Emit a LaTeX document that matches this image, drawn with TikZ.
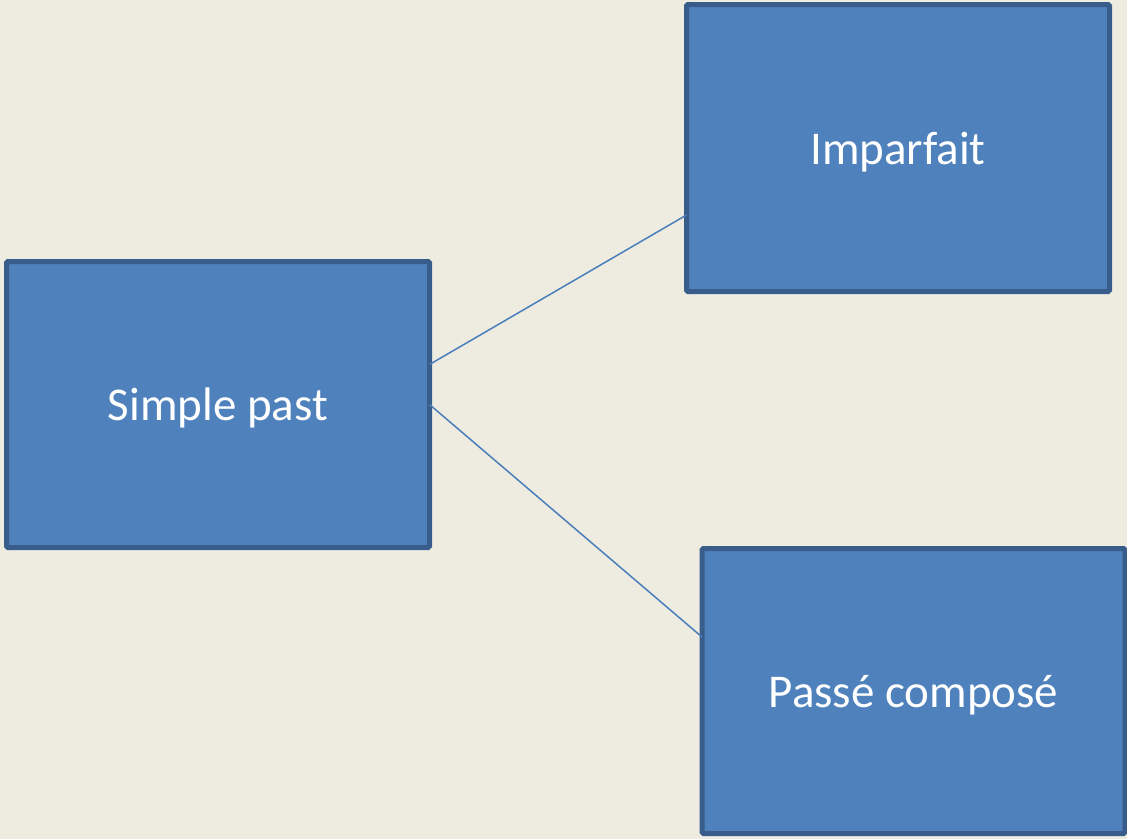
\documentclass[tikz,border=0pt]{standalone}
\usepackage{fontspec}
\setmainfont{Carlito}
\definecolor{bgc}{HTML}{EEECE1}
\definecolor{boxfill}{HTML}{4F81BD}
\definecolor{boxline}{HTML}{385D8A}
\definecolor{conn}{HTML}{4A7EBB}
\begin{document}
\begin{tikzpicture}[x=1pt,y=-1pt,
  tbox/.style={draw=boxline,fill=boxfill,line width=5pt,rounded corners=1.5pt,
    minimum width=423pt,inner sep=0pt,outer sep=0pt,text=white,text depth=0pt,
    font=\fontsize{47}{56}\selectfont},
  link/.style={draw=conn,line width=1.5pt}]
\useasboundingbox (0,0) rectangle (1127,839);
\fill[bgc] (0,0) rectangle (1127,839);
\begin{scope}
\clip (0,0) rectangle (1127,839);
\node[tbox,minimum height=286pt] (A) at (218,404.5) {Simple past};
\node[tbox,minimum height=287pt] (B) at (898,148) {Imparfait};
\node[tbox,minimum height=285pt] (C) at (913.5,691) {Passé composé};
\end{scope}
\draw[link] ([yshift=40pt]A.east) -- ([yshift=-67pt]B.west);
\draw[link] (A.east) -- ([yshift=54pt]C.west);
\end{tikzpicture}
\end{document}
